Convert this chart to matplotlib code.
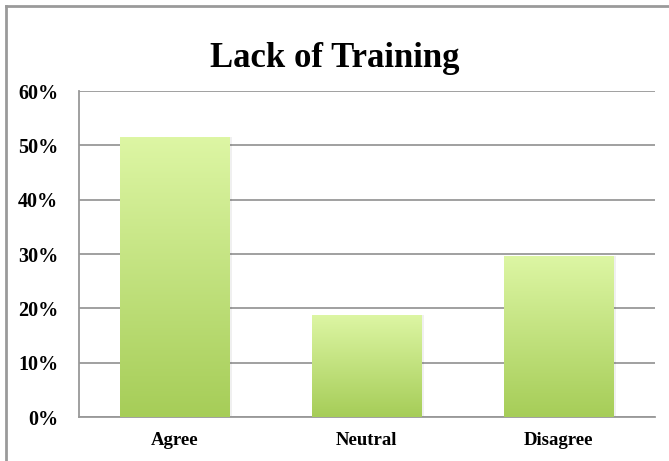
import matplotlib
matplotlib.use("Agg")
import matplotlib.pyplot as plt
from matplotlib.colors import LinearSegmentedColormap
from matplotlib.lines import Line2D
import numpy as np

# data
categories = ['Agree', 'Neutral', 'Disagree']
shares = [0.515, 0.188, 0.297]
y_ticks = [0, 0.1, 0.2, 0.3, 0.4, 0.5, 0.6]
y_labels = ['0%', '10%', '20%', '30%', '40%', '50%', '60%']

plt.rcParams['font.family'] = ['Liberation Serif', 'DejaVu Serif']

fig = plt.figure(figsize=(6.69, 4.61), dpi=100)
ax = fig.add_axes([0.118, 0.0954, 0.861, 0.7072])

grid_col = '#999999'
green = LinearSegmentedColormap.from_list('grn', ['#a6cd58', '#ddf6a4'])
grad = np.linspace(0, 1, 256).reshape(-1, 1)

x = np.arange(len(categories))
width = 0.57
bars = ax.bar(x, shares, width=width, color='none', edgecolor='none', zorder=3)
for b in bars:
    x0, y0 = b.get_x(), b.get_y()
    w, h = b.get_width(), b.get_height()
    # soft shadow to the right
    ax.bar(x0 + w / 2 + 0.012, h, width=w, bottom=y0, color='#000000',
           alpha=0.06, edgecolor='none', zorder=2)
    im = ax.imshow(grad, cmap=green, aspect='auto', origin='lower',
                   extent=[x0, x0 + w, y0, y0 + h], zorder=3)
    im.set_clip_path(b)

ax.set_xlim(-0.5, 2.5)
ax.set_ylim(0, 0.6)
ax.set_yticks(y_ticks)
ax.set_yticklabels(y_labels, fontsize=14.5, fontweight='bold')
ax.set_xticks(x)
ax.set_xticklabels(categories, fontsize=13.5, fontweight='bold')
ax.tick_params(axis='x', length=0, pad=11)
ax.tick_params(axis='y', length=0, pad=15)

ax.yaxis.grid(True, color=grid_col, linewidth=1.3, zorder=1)
ax.set_axisbelow(True)
for side in ['top', 'right']:
    ax.spines[side].set_visible(False)
for side in ['left', 'bottom']:
    ax.spines[side].set_color(grid_col)
    ax.spines[side].set_linewidth(1.3)

fig.text(0.5, 0.874, 'Lack of Training', ha='center', va='center',
         fontsize=25, fontweight='bold')

# outer chart frame (only left and top edges are visible)
fig.add_artist(Line2D([6.5 / 669, 6.5 / 669], [0, 1 - 6.5 / 461],
                      transform=fig.transFigure, color='#9a9a9a', linewidth=2))
fig.add_artist(Line2D([6.5 / 669, 1], [1 - 6.5 / 461, 1 - 6.5 / 461],
                      transform=fig.transFigure, color='#9a9a9a', linewidth=2))

fig.savefig('out.png', dpi=100)
